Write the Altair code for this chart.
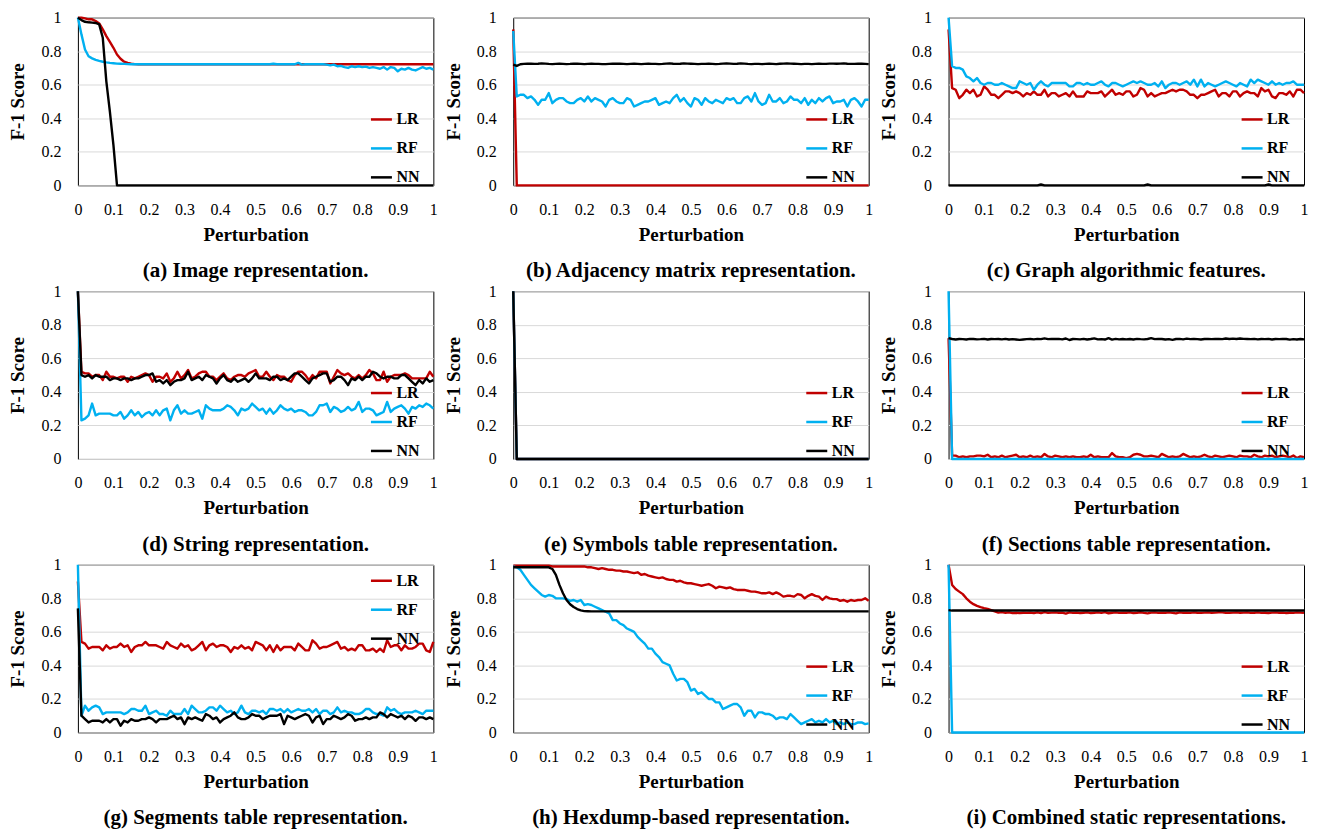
import altair as alt
import pandas as pd

MODELS = ["LR", "RF", "NN"]
COLORS = ["#C00000", "#00B0F0", "#000000"]
CAPTIONS = [
    "(a) Image representation.",
    "(b) Adjacency matrix representation.",
    "(c) Graph algorithmic features.",
    "(d) String representation.",
    "(e) Symbols table representation.",
    "(f) Sections table representation.",
    "(g) Segments table representation.",
    "(h) Hexdump-based representation.",
    "(i) Combined static representations.",
]
X_TICKS = [0, 0.1, 0.2, 0.3, 0.4, 0.5, 0.6, 0.7, 0.8, 0.9, 1]
Y_TICKS = [0, 0.2, 0.4, 0.6, 0.8, 1]
X_STEP = 0.01  # perturbation step between points

# ---------------- (a) Image representation ----------------
A_LR = ([1.0, 1.0, 0.995, 0.99, 0.99, 0.98, 0.965, 0.93, 0.89, 0.855,
         0.82, 0.78, 0.755, 0.737, 0.73, 0.725, 0.723, 0.722, 0.722, 0.722]
        + [0.722] * 81)
A_RF = [1.0, 0.90, 0.81, 0.77, 0.757, 0.748, 0.742, 0.737, 0.733, 0.73,
        0.728, 0.726, 0.725, 0.724, 0.723, 0.722, 0.722, 0.722, 0.722, 0.722,
        0.722, 0.722, 0.722, 0.722, 0.722, 0.722, 0.722, 0.722, 0.722, 0.722,
        0.722, 0.722, 0.722, 0.722, 0.722, 0.722, 0.722, 0.722, 0.722, 0.722,
        0.722, 0.722, 0.722, 0.722, 0.722, 0.722, 0.722, 0.722, 0.722, 0.722,
        0.722, 0.722, 0.722, 0.723, 0.722, 0.725, 0.722, 0.722, 0.722, 0.722,
        0.722, 0.722, 0.73, 0.72, 0.722, 0.722, 0.723, 0.722, 0.722, 0.722,
        0.72, 0.715, 0.72, 0.71, 0.712, 0.705, 0.70, 0.71, 0.705, 0.71,
        0.705, 0.708, 0.70, 0.705, 0.70, 0.695, 0.705, 0.69, 0.705, 0.70,
        0.68, 0.695, 0.69, 0.70, 0.69, 0.685, 0.695, 0.705, 0.695, 0.70,
        0.69]
A_NN = ([1.0, 0.985, 0.975, 0.972, 0.97, 0.968, 0.96, 0.88, 0.62, 0.44,
         0.24] + [0.0] * 90)

# ---------------- (b) Adjacency matrix ----------------
B_LR = [0.93] + [0.0] * 100
B_RF = [0.92, 0.53, 0.54, 0.54, 0.52, 0.53, 0.51, 0.48, 0.51, 0.51,
        0.55, 0.49, 0.51, 0.52, 0.52, 0.50, 0.49, 0.49, 0.51, 0.52,
        0.50, 0.53, 0.50, 0.52, 0.51, 0.50, 0.47, 0.51, 0.52, 0.50,
        0.49, 0.49, 0.52, 0.51, 0.47, 0.48, 0.49, 0.50, 0.50, 0.51,
        0.52, 0.48, 0.49, 0.50, 0.49, 0.52, 0.54, 0.50, 0.52, 0.49,
        0.47, 0.52, 0.51, 0.48, 0.52, 0.50, 0.49, 0.51, 0.50, 0.49,
        0.52, 0.51, 0.52, 0.49, 0.49, 0.52, 0.53, 0.50, 0.55, 0.50,
        0.48, 0.49, 0.54, 0.50, 0.50, 0.52, 0.49, 0.50, 0.53, 0.51,
        0.51, 0.49, 0.52, 0.48, 0.51, 0.49, 0.52, 0.50, 0.52, 0.53,
        0.49, 0.50, 0.50, 0.51, 0.47, 0.51, 0.52, 0.50, 0.47, 0.51,
        0.51]
B_NN = [0.72, 0.712, 0.722, 0.724, 0.725, 0.726, 0.724, 0.725, 0.727, 0.726,
        0.724, 0.723, 0.724, 0.725, 0.724, 0.723, 0.724, 0.726, 0.725, 0.724,
        0.723, 0.724, 0.725, 0.724, 0.724, 0.723, 0.723, 0.724, 0.725, 0.726,
        0.725, 0.724, 0.723, 0.724, 0.725, 0.724, 0.723, 0.724, 0.725, 0.724,
        0.724, 0.723, 0.724, 0.726, 0.727, 0.725, 0.724, 0.725, 0.727, 0.726,
        0.725, 0.724, 0.723, 0.724, 0.724, 0.725, 0.724, 0.723, 0.724, 0.726,
        0.727, 0.726, 0.724, 0.725, 0.727, 0.726, 0.724, 0.723, 0.724, 0.724,
        0.723, 0.724, 0.725, 0.724, 0.723, 0.725, 0.726, 0.727, 0.726, 0.725,
        0.724, 0.723, 0.724, 0.724, 0.723, 0.724, 0.725, 0.724, 0.724, 0.726,
        0.726, 0.725, 0.726, 0.727, 0.725, 0.724, 0.724, 0.725, 0.725, 0.724,
        0.723]

# ---------------- (c) Graph algorithmic features ----------------
C_LR = [0.93, 0.58, 0.57, 0.52, 0.54, 0.57, 0.55, 0.57, 0.53, 0.54,
        0.59, 0.57, 0.54, 0.54, 0.52, 0.54, 0.56, 0.56, 0.55, 0.56,
        0.55, 0.53, 0.55, 0.54, 0.56, 0.54, 0.54, 0.57, 0.53, 0.55,
        0.55, 0.53, 0.54, 0.55, 0.53, 0.56, 0.53, 0.53, 0.53, 0.56,
        0.55, 0.55, 0.55, 0.56, 0.53, 0.55, 0.57, 0.54, 0.55, 0.54,
        0.56, 0.56, 0.53, 0.54, 0.58, 0.57, 0.53, 0.55, 0.53, 0.54,
        0.55, 0.55, 0.56, 0.57, 0.56, 0.57, 0.57, 0.56, 0.54, 0.54,
        0.52, 0.54, 0.54, 0.55, 0.56, 0.57, 0.53, 0.55, 0.55, 0.53,
        0.56, 0.56, 0.53, 0.55, 0.56, 0.55, 0.55, 0.53, 0.58, 0.56,
        0.57, 0.53, 0.52, 0.55, 0.55, 0.54, 0.56, 0.53, 0.57, 0.57,
        0.55]
C_RF = [1.0, 0.71, 0.70, 0.70, 0.69, 0.65, 0.64, 0.62, 0.64, 0.61,
        0.60, 0.61, 0.61, 0.60, 0.60, 0.61, 0.60, 0.59, 0.58, 0.58,
        0.62, 0.61, 0.60, 0.61, 0.57, 0.60, 0.62, 0.60, 0.59, 0.61,
        0.61, 0.61, 0.61, 0.61, 0.59, 0.59, 0.61, 0.61, 0.60, 0.61,
        0.60, 0.60, 0.61, 0.62, 0.60, 0.59, 0.61, 0.61, 0.60, 0.59,
        0.60, 0.61, 0.62, 0.61, 0.62, 0.61, 0.60, 0.60, 0.61, 0.59,
        0.62, 0.58, 0.60, 0.61, 0.61, 0.60, 0.61, 0.62, 0.60, 0.63,
        0.59, 0.63, 0.59, 0.61, 0.60, 0.59, 0.60, 0.61, 0.62, 0.61,
        0.60, 0.59, 0.61, 0.60, 0.59, 0.63, 0.61, 0.63, 0.62, 0.61,
        0.60, 0.62, 0.60, 0.61, 0.60, 0.61, 0.61, 0.62, 0.60, 0.60,
        0.60]
C_NN = [0.0] * 26 + [0.005] + [0.0] * 29 + [0.005] + [0.0] * 33 + [0.005] + [0.0] * 10

# ---------------- (d) String representation ----------------
D_LR = [1.0, 0.52, 0.51, 0.51, 0.49, 0.50, 0.50, 0.47, 0.52, 0.49,
        0.49, 0.48, 0.49, 0.49, 0.46, 0.49, 0.48, 0.49, 0.50, 0.51,
        0.50, 0.46, 0.49, 0.49, 0.48, 0.51, 0.46, 0.48, 0.52, 0.48,
        0.50, 0.53, 0.48, 0.49, 0.51, 0.52, 0.52, 0.49, 0.49, 0.47,
        0.49, 0.51, 0.48, 0.47, 0.49, 0.50, 0.50, 0.49, 0.51, 0.52,
        0.53, 0.49, 0.49, 0.52, 0.49, 0.47, 0.50, 0.49, 0.49, 0.47,
        0.46, 0.50, 0.52, 0.52, 0.50, 0.47, 0.50, 0.48, 0.52, 0.52,
        0.52, 0.45, 0.49, 0.53, 0.51, 0.50, 0.51, 0.49, 0.48, 0.50,
        0.48, 0.50, 0.53, 0.51, 0.47, 0.47, 0.52, 0.46, 0.49, 0.50,
        0.50, 0.50, 0.51, 0.50, 0.48, 0.48, 0.48, 0.48, 0.48, 0.52,
        0.49]
D_RF = [1.0, 0.23, 0.24, 0.26, 0.33, 0.26, 0.27, 0.27, 0.27, 0.27,
        0.26, 0.26, 0.28, 0.24, 0.26, 0.29, 0.26, 0.28, 0.25, 0.27,
        0.28, 0.26, 0.29, 0.26, 0.29, 0.30, 0.23, 0.29, 0.32, 0.27,
        0.29, 0.27, 0.27, 0.28, 0.29, 0.24, 0.32, 0.30, 0.29, 0.29,
        0.29, 0.30, 0.32, 0.31, 0.29, 0.26, 0.30, 0.29, 0.30, 0.33,
        0.31, 0.29, 0.30, 0.27, 0.30, 0.27, 0.29, 0.32, 0.30, 0.29,
        0.30, 0.28, 0.29, 0.29, 0.28, 0.26, 0.26, 0.28, 0.32, 0.32,
        0.33, 0.28, 0.31, 0.30, 0.28, 0.29, 0.31, 0.29, 0.30, 0.34,
        0.28, 0.30, 0.30, 0.29, 0.26, 0.27, 0.28, 0.34, 0.28, 0.30,
        0.31, 0.32, 0.30, 0.27, 0.31, 0.30, 0.32, 0.31, 0.33, 0.32,
        0.30]
D_NN = [1.0, 0.50, 0.49, 0.50, 0.48, 0.50, 0.49, 0.49, 0.49, 0.47,
        0.48, 0.48, 0.47, 0.48, 0.48, 0.47, 0.48, 0.48, 0.49, 0.50,
        0.50, 0.51, 0.46, 0.47, 0.45, 0.47, 0.44, 0.46, 0.47, 0.47,
        0.48, 0.52, 0.47, 0.48, 0.49, 0.47, 0.50, 0.49, 0.48, 0.45,
        0.48, 0.50, 0.47, 0.46, 0.48, 0.46, 0.47, 0.48, 0.46, 0.48,
        0.51, 0.48, 0.48, 0.48, 0.47, 0.49, 0.49, 0.47, 0.48, 0.47,
        0.49, 0.51, 0.51, 0.49, 0.47, 0.45, 0.48, 0.49, 0.50, 0.51,
        0.51, 0.46, 0.47, 0.49, 0.49, 0.47, 0.44, 0.48, 0.47, 0.49,
        0.47, 0.49, 0.49, 0.52, 0.51, 0.49, 0.48, 0.49, 0.49, 0.48,
        0.48, 0.50, 0.50, 0.48, 0.46, 0.44, 0.47, 0.45, 0.48, 0.46,
        0.47]

# ---------------- (e) Symbols table ----------------
E_LR = [1.0] + [0.0] * 100
E_RF = [1.0] + [0.0] * 100
E_NN = [1.0] + [0.0] * 100

# ---------------- (f) Sections table ----------------
F_LR = [0.72, 0.02, 0.02, 0.01, 0.015, 0.01, 0.015, 0.015, 0.02, 0.02,
        0.015, 0.025, 0.01, 0.015, 0.01, 0.02, 0.01, 0.015, 0.02, 0.025,
        0.01, 0.015, 0.01, 0.02, 0.01, 0.015, 0.01, 0.03, 0.015, 0.01,
        0.02, 0.015, 0.01, 0.015, 0.01, 0.015, 0.01, 0.01, 0.015, 0.01,
        0.025, 0.01, 0.015, 0.01, 0.01, 0.01, 0.035, 0.015, 0.01, 0.01,
        0.005, 0.01, 0.025, 0.03, 0.025, 0.015, 0.015, 0.02, 0.015, 0.01,
        0.03, 0.02, 0.01, 0.015, 0.01, 0.015, 0.03, 0.02, 0.01, 0.015,
        0.01, 0.015, 0.025, 0.015, 0.01, 0.02, 0.015, 0.01, 0.015, 0.02,
        0.015, 0.01, 0.02, 0.015, 0.015, 0.01, 0.025, 0.015, 0.01, 0.02,
        0.015, 0.02, 0.01, 0.015, 0.02, 0.015, 0.01, 0.02, 0.005, 0.015,
        0.01]
F_RF = [1.0] + [0.0] * 100
F_NN = [0.72, 0.715, 0.712, 0.715, 0.714, 0.712, 0.716, 0.715, 0.713, 0.714,
        0.716, 0.712, 0.715, 0.714, 0.715, 0.713, 0.716, 0.712, 0.714, 0.712,
        0.71, 0.712, 0.714, 0.715, 0.713, 0.716, 0.714, 0.719, 0.714, 0.716,
        0.715, 0.716, 0.713, 0.718, 0.709, 0.715, 0.714, 0.713, 0.716, 0.712,
        0.715, 0.719, 0.713, 0.714, 0.712, 0.72, 0.711, 0.716, 0.713, 0.715,
        0.713, 0.715, 0.712, 0.716, 0.714, 0.713, 0.715, 0.72, 0.714, 0.716,
        0.715, 0.712, 0.714, 0.71, 0.715, 0.716, 0.713, 0.717, 0.714, 0.716,
        0.714, 0.712, 0.715, 0.716, 0.714, 0.715, 0.716, 0.714, 0.718, 0.715,
        0.717, 0.715, 0.718, 0.716, 0.715, 0.714, 0.716, 0.713, 0.715, 0.714,
        0.716, 0.712, 0.715, 0.714, 0.716, 0.715, 0.711, 0.714, 0.712, 0.715,
        0.713]

# ---------------- (g) Segments table ----------------
G_LR = [0.90, 0.54, 0.53, 0.50, 0.51, 0.51, 0.51, 0.49, 0.52, 0.50,
        0.51, 0.51, 0.53, 0.51, 0.52, 0.48, 0.51, 0.52, 0.52, 0.54,
        0.52, 0.52, 0.52, 0.51, 0.50, 0.54, 0.52, 0.51, 0.50, 0.53,
        0.51, 0.52, 0.49, 0.50, 0.52, 0.54, 0.49, 0.52, 0.53, 0.51,
        0.52, 0.52, 0.51, 0.48, 0.51, 0.50, 0.52, 0.50, 0.51, 0.49,
        0.54, 0.53, 0.52, 0.49, 0.52, 0.48, 0.52, 0.49, 0.51, 0.51,
        0.51, 0.49, 0.53, 0.51, 0.49, 0.49, 0.55, 0.53, 0.50, 0.51,
        0.51, 0.52, 0.53, 0.54, 0.50, 0.51, 0.49, 0.50, 0.49, 0.52,
        0.52, 0.49, 0.49, 0.50, 0.48, 0.50, 0.48, 0.55, 0.51, 0.52,
        0.52, 0.49, 0.52, 0.50, 0.50, 0.51, 0.53, 0.53, 0.49, 0.48,
        0.54]
G_RF = [1.0, 0.10, 0.16, 0.13, 0.15, 0.16, 0.15, 0.11, 0.12, 0.12,
        0.12, 0.12, 0.12, 0.11, 0.12, 0.14, 0.14, 0.13, 0.13, 0.16,
        0.11, 0.12, 0.13, 0.11, 0.11, 0.10, 0.13, 0.11, 0.11, 0.11,
        0.14, 0.11, 0.16, 0.14, 0.12, 0.12, 0.13, 0.15, 0.15, 0.13,
        0.16, 0.14, 0.12, 0.13, 0.11, 0.12, 0.16, 0.12, 0.11, 0.13,
        0.13, 0.12, 0.13, 0.11, 0.14, 0.14, 0.13, 0.14, 0.12, 0.14,
        0.12, 0.13, 0.14, 0.13, 0.13, 0.14, 0.12, 0.14, 0.11, 0.13,
        0.13, 0.11, 0.12, 0.15, 0.12, 0.13, 0.12, 0.12, 0.11, 0.11,
        0.12, 0.14, 0.14, 0.12, 0.11, 0.11, 0.10, 0.15, 0.13, 0.14,
        0.12, 0.11, 0.12, 0.12, 0.12, 0.13, 0.12, 0.11, 0.13, 0.13,
        0.13]
G_NN = [0.74, 0.10, 0.08, 0.06, 0.07, 0.07, 0.07, 0.06, 0.08, 0.06,
        0.08, 0.08, 0.04, 0.07, 0.06, 0.08, 0.07, 0.07, 0.08, 0.08,
        0.09, 0.08, 0.06, 0.08, 0.08, 0.08, 0.09, 0.10, 0.08, 0.09,
        0.05, 0.09, 0.08, 0.09, 0.08, 0.07, 0.11, 0.10, 0.08, 0.09,
        0.06, 0.08, 0.09, 0.10, 0.12, 0.09, 0.08, 0.08, 0.09, 0.11,
        0.10, 0.10, 0.08, 0.09, 0.10, 0.10, 0.10, 0.11, 0.05, 0.10,
        0.09, 0.08, 0.09, 0.10, 0.11, 0.10, 0.06, 0.09, 0.10, 0.05,
        0.08, 0.08, 0.10, 0.09, 0.08, 0.09, 0.11, 0.10, 0.07, 0.08,
        0.08, 0.09, 0.08, 0.09, 0.09, 0.12, 0.11, 0.09, 0.11, 0.10,
        0.09, 0.10, 0.08, 0.10, 0.09, 0.07, 0.09, 0.09, 0.08, 0.09,
        0.08]

# ---------------- (h) Hexdump-based ----------------
H_LR = [0.995, 0.995, 0.995, 0.995, 0.995, 0.995, 0.995, 0.995, 0.995, 0.995,
        0.995, 0.99, 0.99, 0.99, 0.99, 0.99, 0.99, 0.99, 0.99, 0.99,
        0.99, 0.985, 0.985, 0.98, 0.975, 0.98, 0.975, 0.97, 0.97, 0.965,
        0.965, 0.96, 0.96, 0.955, 0.95, 0.955, 0.94, 0.945, 0.935, 0.93,
        0.925, 0.92, 0.925, 0.915, 0.91, 0.91, 0.90, 0.905, 0.895, 0.89,
        0.89, 0.885, 0.88, 0.875, 0.88, 0.885, 0.875, 0.86, 0.87, 0.865,
        0.86, 0.865, 0.855, 0.85, 0.85, 0.85, 0.845, 0.84, 0.84, 0.835,
        0.83, 0.83, 0.835, 0.825, 0.835, 0.825, 0.81, 0.815, 0.815, 0.81,
        0.825, 0.82, 0.80, 0.815, 0.825, 0.815, 0.81, 0.79, 0.81, 0.80,
        0.795, 0.795, 0.785, 0.79, 0.78, 0.79, 0.785, 0.79, 0.79, 0.80,
        0.785]
H_RF = [0.99, 0.985, 0.97, 0.94, 0.91, 0.88, 0.86, 0.84, 0.82, 0.81,
        0.82, 0.815, 0.80, 0.80, 0.80, 0.795, 0.785, 0.79, 0.78, 0.79,
        0.76, 0.765, 0.76, 0.75, 0.74, 0.73, 0.72, 0.71, 0.67, 0.67,
        0.65, 0.64, 0.62, 0.61, 0.60, 0.57, 0.55, 0.53, 0.50, 0.50,
        0.47, 0.45, 0.42, 0.41, 0.40, 0.35, 0.31, 0.32, 0.32, 0.30,
        0.25, 0.26, 0.23, 0.24, 0.22, 0.20, 0.20, 0.18, 0.18, 0.14,
        0.15, 0.16, 0.17, 0.17, 0.15, 0.10, 0.13, 0.13, 0.09, 0.12,
        0.12, 0.11, 0.11, 0.10, 0.08, 0.09, 0.09, 0.08, 0.11, 0.09,
        0.07, 0.05, 0.06, 0.07, 0.08, 0.06, 0.07, 0.06, 0.08, 0.06,
        0.07, 0.05, 0.06, 0.05, 0.06, 0.05, 0.05, 0.06, 0.06, 0.05,
        0.055]
H_NN = ([0.985] * 11
        + [0.975, 0.94, 0.88, 0.83, 0.79, 0.765, 0.748, 0.736, 0.728, 0.724, 0.723]
        + [0.722] * 79)

# ---------------- (i) Combined static ----------------
I_LR = [1.0, 0.88, 0.855, 0.84, 0.825, 0.80, 0.78, 0.765, 0.755, 0.748,
        0.742, 0.737, 0.73, 0.722, 0.715, 0.718, 0.714, 0.716, 0.712, 0.713,
        0.712, 0.714, 0.713, 0.715, 0.712, 0.716, 0.712, 0.718, 0.713, 0.715,
        0.716, 0.714, 0.715, 0.709, 0.716, 0.713, 0.715, 0.712, 0.714, 0.716,
        0.712, 0.714, 0.716, 0.713, 0.718, 0.711, 0.714, 0.716, 0.713, 0.715,
        0.714, 0.716, 0.712, 0.714, 0.717, 0.713, 0.71, 0.715, 0.716, 0.713,
        0.715, 0.714, 0.716, 0.713, 0.71, 0.716, 0.714, 0.715, 0.713, 0.716,
        0.714, 0.713, 0.715, 0.716, 0.714, 0.715, 0.717, 0.716, 0.714, 0.713,
        0.715, 0.716, 0.714, 0.715, 0.716, 0.713, 0.714, 0.716, 0.713, 0.714,
        0.712, 0.715, 0.716, 0.714, 0.715, 0.712, 0.714, 0.713, 0.716, 0.715,
        0.713]
I_RF = [1.0] + [0.0] * 100
I_NN = [0.73] + [0.727] * 100

SERIES = [
    (A_LR, A_RF, A_NN), (B_LR, B_RF, B_NN), (C_LR, C_RF, C_NN),
    (D_LR, D_RF, D_NN), (E_LR, E_RF, E_NN), (F_LR, F_RF, F_NN),
    (G_LR, G_RF, G_NN), (H_LR, H_RF, H_NN), (I_LR, I_RF, I_NN),
]
LEGEND_TOP = [90, 90, 90, 90, 90, 90, 4, 90, 90]

rows = []
for p, triple in enumerate(SERIES):
    for m, vals in zip(MODELS, triple):
        for i, v in enumerate(vals):
            rows.append({"panel": p, "model": m, "x": round(i * X_STEP, 2), "y": v})
df = pd.DataFrame(rows)

SERIF = "Liberation Serif"
PW, PH = 356, 168


def panel(p):
    return alt.Chart(df[df["panel"] == p]).mark_line(
        strokeWidth=2.4, strokeJoin="round", strokeCap="butt"
    ).encode(
        x=alt.X("x:Q", scale=alt.Scale(domain=[0, 1], nice=False, zero=False),
                axis=alt.Axis(values=X_TICKS, format="~g", title="Perturbation",
                              grid=False, ticks=False, tickSize=0, domain=False,
                              labelPadding=16, titlePadding=8,
                              labelFlush=False)),
        y=alt.Y("y:Q", scale=alt.Scale(domain=[0, 1], nice=False),
                axis=alt.Axis(values=Y_TICKS, format="~g", title="F-1 Score",
                              grid=True, ticks=False, tickSize=0, domain=False,
                              labelPadding=17, titlePadding=13)),
        color=alt.Color("model:N", sort=MODELS,
                        scale=alt.Scale(domain=MODELS, range=COLORS),
                        legend=alt.Legend(orient="none", legendX=292,
                                          legendY=LEGEND_TOP[p], title=None,
                                          symbolType="stroke", symbolSize=441,
                                          symbolStrokeWidth=2.5,
                                          labelFont=SERIF, labelFontSize=16,
                                          labelFontWeight="bold",
                                          labelColor="#000000",
                                          labelOffset=3, rowPadding=9)),
    ).properties(
        width=PW, height=PH,
        title=alt.TitleParams(CAPTIONS[p], orient="bottom", anchor="middle",
                              font=SERIF, fontSize=21, fontWeight="bold",
                              color="#000000", offset=16),
    )


rows_charts = []
for r in range(3):
    hc = alt.hconcat(*[panel(3 * r + c) for c in range(3)], spacing=5)
    hc = hc.resolve_scale(color="independent").resolve_legend(color="independent")
    rows_charts.append(hc)

chart = alt.vconcat(*rows_charts, spacing=0).resolve_scale(
    color="independent").resolve_legend(color="independent").properties(
    padding=0
).configure_view(
    stroke="#000000", strokeWidth=1
).configure_axis(
    labelFont=SERIF, labelFontSize=16, labelColor="#000000",
    titleFont=SERIF, titleFontSize=19, titleFontWeight="bold", titleColor="#000000",
    gridColor="#D9D9D9", gridWidth=1,
)

chart.save("out.html", embed_options={"renderer": "svg", "actions": False})
